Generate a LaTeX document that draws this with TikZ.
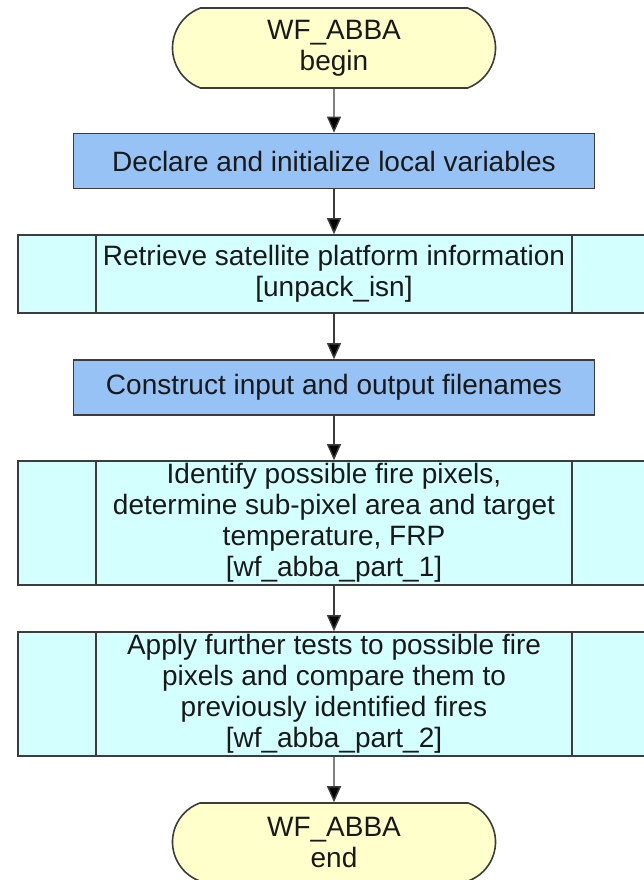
\documentclass[tikz,border=0pt]{standalone}
\usepackage{fontspec}
\setmainfont{Liberation Sans}
\usetikzlibrary{arrows.meta,shapes.misc}
\definecolor{termfill}{RGB}{255,255,204}
\definecolor{procfill}{RGB}{150,194,245}
\definecolor{subfill}{RGB}{212,255,255}
\definecolor{edge}{RGB}{60,60,60}
\definecolor{ink}{RGB}{25,25,25}
\begin{document}
\begin{tikzpicture}[x=1pt,y=-1pt,
  every node/.style={font=\fontsize{28}{31}\selectfont, text=ink, align=center, inner sep=0pt},
  term/.style={rounded rectangle, rounded rectangle arc length=140,
               draw=edge, line width=1.6pt, fill=termfill,
               minimum width=323pt, minimum height=80pt},
  proc/.style={rectangle, draw=edge, line width=1.6pt, fill=procfill,
               minimum width=521pt, minimum height=55pt},
  subproc/.style={rectangle, draw=edge, line width=1.6pt, fill=subfill,
               minimum width=632pt},
  sideline/.style={draw=edge, line width=1.6pt},
  flow/.style={draw=edge, line width=1.4pt, -{Triangle[length=16pt,width=14pt,fill=black]}}
]
% canvas and page frame
\fill[white] (0,0) rectangle (644,880);
\clip (0,0) rectangle (644,880);
\useasboundingbox (0,0) rectangle (644,880);

% flow steps
\node[term] (begin) at (334,48) {WF\_ABBA\\begin};
\node[proc] (decl) at (334,161) {Declare and initialize local variables};
\node[subproc, minimum height=78pt] (sat) at (334,274)
  {Retrieve satellite platform information\\{[}unpack\_isn{]}};
\node[proc] (names) at (334,387.5) {Construct input and output filenames};
\node[subproc, minimum height=124pt] (part1) at (334,523)
  {Identify possible fire pixels,\\determine sub-pixel area and target\\temperature, FRP\\{[}wf\_abba\_part\_1{]}};
\node[subproc, minimum height=124pt] (part2) at (334,694)
  {Apply further tests to possible fire\\pixels and compare them to\\previously identified fires\\{[}wf\_abba\_part\_2{]}};
\node[term, minimum height=78pt] (end) at (334,842) {WF\_ABBA\\end};

% side bars of the predefined-process boxes
\foreach \n in {sat,part1,part2}{
  \draw[sideline] ([xshift=79pt]\n.north west) -- ([xshift=79pt]\n.south west);
  \draw[sideline] ([xshift=-79pt]\n.north east) -- ([xshift=-79pt]\n.south east);
}

% connectors
\draw[flow] (begin) -- (decl);
\draw[flow] (decl) -- (sat);
\draw[flow] (sat) -- (names);
\draw[flow] (names) -- (part1);
\draw[flow] (part1) -- (part2);
\draw[flow] (part2) -- (end);
\end{tikzpicture}
\end{document}
